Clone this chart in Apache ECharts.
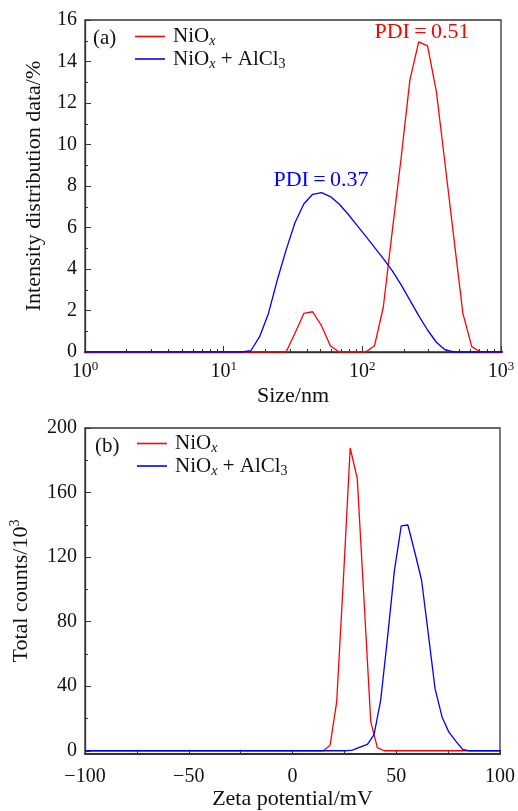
<!DOCTYPE html>
<html>
<head>
<meta charset="utf-8">
<script src="https://cdn.jsdelivr.net/npm/echarts@6/dist/echarts.min.js"></script>
<style>html,body{margin:0;padding:0;background:#fff}#c{width:518px;height:811px}</style>
</head>
<body>
<div id="c"></div>
<script>
// ---- Panel (a): DLS intensity distribution ----
const sizeNm = [0.9649, 1.117, 1.294, 1.499, 1.736, 2.010, 2.328, 2.696, 3.122, 3.615, 4.187, 4.849, 5.615, 6.503, 7.531, 8.721, 10.10, 11.70, 13.54, 15.69, 18.17, 21.04, 24.36, 28.21, 32.67, 37.84, 43.82, 50.75, 58.77, 68.06, 78.82, 91.28, 105.7, 122.4, 141.8, 164.2, 190.1, 220.2, 255.0, 295.3, 342.0, 396.1, 458.7, 531.2, 615.1, 712.4, 825.0, 955.4, 1106];
const intensityNiOx = [0, 0, 0, 0, 0, 0, 0, 0, 0, 0, 0, 0, 0, 0, 0, 0, 0, 0, 0, 0, 0, 0, 0, 0, 0.9, 1.86, 1.94, 1.27, 0.3, 0, 0, 0, 0, 0.3, 2.18, 5.8, 9.3, 13.1, 14.95, 14.75, 12.55, 9.0, 5.4, 1.86, 0.26, 0, 0, 0, 0];
const intensityNiOxAlCl3 = [0, 0, 0, 0, 0, 0, 0, 0, 0, 0, 0, 0, 0, 0, 0, 0, 0, 0, 0, 0.06, 0.74, 1.86, 3.47, 4.92, 6.23, 7.13, 7.6, 7.68, 7.49, 7.13, 6.65, 6.11, 5.58, 5.04, 4.5, 3.92, 3.25, 2.5, 1.75, 1.06, 0.47, 0.1, 0, 0, 0, 0, 0, 0, 0];
const sizeTickMajor = [1, 10, 100, 1000];
const sizeTickMinor = [2, 3, 4, 5, 6, 7, 8, 9, 20, 30, 40, 50, 60, 70, 80, 90, 200, 300, 400, 500, 600, 700, 800, 900];

// ---- Panel (b): zeta potential distribution ----
const zetaNiOx = [-100, 14.9, 18.1, 21.3, 24.6, 27.8, 31.2, 34.4, 37.7, 40.9, 44.2, 100];
const countsNiOx = [0, 0, 3.5, 30.3, 108, 187.6, 168.8, 95, 18.1, 1.9, 0, 0];
const zetaNiOxAlCl3 = [-100, 25.6, 28.9, 32.5, 36.1, 39.3, 42.5, 45.7, 49.1, 52.4, 55.6, 59.0, 62.2, 65.4, 68.7, 72.1, 75.3, 78.7, 82.0, 85.3, 100];
const countsNiOxAlCl3 = [0, 0, 0.4, 2.3, 4.0, 10.0, 31.4, 68.9, 111.5, 139.3, 139.9, 122.7, 105.8, 72.9, 38.5, 20.8, 11.7, 6.0, 0.9, 0, 0];
const countTickMajor = [0, 40, 80, 120, 160, 200];
const countTickMinor = [20, 60, 100, 140, 180];

const seriesNames = ['NiOx', 'NiOx+AlCl3'];
const pdiLabels = ['PDI\u2009=\u20090.51', 'PDI\u2009=\u20090.37'];

const F = 'Liberation Serif';
const TXT = '#111';
const AX = '#333';
const RED = '#ff0000';
const BLUE = '#0000ff';

const pairs = (xs, ys) => xs.map((x, i) => [x, ys[i]]);

const richBase = {
  b: { fontFamily: F, fontSize: 20, lineHeight: 24, verticalAlign: 'middle', color: TXT },
  s: { fontFamily: F, fontSize: 13, lineHeight: 13, verticalAlign: 'top', color: TXT }
};
const legendRich = {
  p: { fontFamily: F, fontSize: 21, lineHeight: 24, verticalAlign: 'middle', color: TXT, padding: [0, 0, 0, 3] },
  n: { fontFamily: F, fontSize: 21, lineHeight: 24, verticalAlign: 'middle', color: TXT },
  i: { fontFamily: F, fontSize: 14, fontStyle: 'italic', lineHeight: 14, verticalAlign: 'bottom', color: TXT },
  d: { fontFamily: F, fontSize: 14, lineHeight: 14, verticalAlign: 'bottom', color: TXT }
};
const legendFmt = n => n === 'NiOx' ? '{p|NiO}{i|x}' : '{p|NiO}{i|x}{n|\u2005+\u2005AlCl}{d|3}';

const chart = echarts.init(document.getElementById('c'), null, { renderer: 'canvas' });

const nameStyle = { fontFamily: F, fontSize: 22, color: TXT };

const option = {
  animation: false,
  backgroundColor: '#fff',
  grid: [
    { left: 85, top: 20, width: 416, height: 332, show: true, borderColor: AX, borderWidth: 1.3, backgroundColor: 'transparent' },
    { left: 85, top: 428, width: 416, height: 331, show: true, borderColor: AX, borderWidth: 1.3, backgroundColor: 'transparent' }
  ],
  xAxis: [
    { type: 'log', gridIndex: 0, min: 1, max: 1000, logBase: 10, position: 'bottom',
      name: 'Size/nm', nameLocation: 'middle', nameGap: 33, nameTextStyle: nameStyle,
      axisLine: { onZero: false, lineStyle: { color: AX, width: 1.3 } },
      axisTick: { inside: true, length: 6, lineStyle: { color: AX }, customValues: sizeTickMajor },
      axisLabel: { margin: 8, customValues: sizeTickMajor, formatter: v => '{b|10}{s|' + Math.round(Math.log10(v)) + '}', rich: richBase },
      splitLine: { show: false } },
    { type: 'log', gridIndex: 0, min: 1, max: 1000, logBase: 10, position: 'bottom',
      axisLine: { show: false, onZero: false },
      axisTick: { inside: true, length: 3, lineStyle: { color: AX }, customValues: sizeTickMinor },
      axisLabel: { show: false }, splitLine: { show: false } },
    { type: 'value', gridIndex: 1, min: -100, max: 100, interval: 50, position: 'bottom',
      name: 'Zeta potential/mV', nameLocation: 'middle', nameGap: 34, nameTextStyle: nameStyle,
      axisLine: { onZero: false, lineStyle: { color: AX, width: 1.8 } },
      axisTick: { inside: true, length: 4, lineStyle: { color: AX } },
      minorTick: { show: true, splitNumber: 2, length: 4, lineStyle: { color: AX } },
      axisLabel: { margin: 13, fontFamily: F, fontSize: 20, color: TXT, formatter: v => String(v).replace('-', '\u2212') },
      splitLine: { show: false } }
  ],
  yAxis: [
    { type: 'value', gridIndex: 0, min: 0, max: 16, interval: 2, position: 'left',
      name: 'Intensity distribution data/%', nameLocation: 'middle', nameGap: 40, nameRotate: 90, nameTextStyle: nameStyle,
      axisLine: { onZero: false, lineStyle: { color: AX, width: 1.3 } },
      axisTick: { inside: true, length: 6, lineStyle: { color: AX } },
      minorTick: { show: true, splitNumber: 2, length: 3, lineStyle: { color: AX } },
      axisLabel: { margin: 8, fontFamily: F, fontSize: 20, color: TXT },
      splitLine: { show: false } },
    { type: 'value', gridIndex: 1, min: -2, max: 200, position: 'left',
      name: '{n|Total counts/10}{s|3}', nameLocation: 'middle', nameGap: 51, nameRotate: 90,
      nameTextStyle: { rich: { n: { fontFamily: F, fontSize: 22, lineHeight: 26, verticalAlign: 'middle', color: TXT }, s: { fontFamily: F, fontSize: 14, lineHeight: 14, verticalAlign: 'top', color: TXT } } },
      axisLine: { onZero: false, lineStyle: { color: AX, width: 1.3 } },
      axisTick: { inside: true, length: 6, lineStyle: { color: AX }, customValues: countTickMajor },
      axisLabel: { margin: 8, fontFamily: F, fontSize: 20, color: TXT, customValues: countTickMajor },
      splitLine: { show: false } },
    { type: 'value', gridIndex: 1, min: -2, max: 200, position: 'left',
      axisLine: { show: false, onZero: false },
      axisTick: { inside: true, length: 3, lineStyle: { color: AX }, customValues: countTickMinor },
      axisLabel: { show: false }, splitLine: { show: false } }
  ],
  legend: [
    { orient: 'vertical', left: 135, top: 26, itemWidth: 30, itemHeight: 1.6, itemGap: 0, padding: 0, icon: 'rect',
      data: seriesNames, formatter: legendFmt, textStyle: { rich: legendRich }, selectedMode: false },
    { orient: 'vertical', left: 137, top: 433, itemWidth: 30, itemHeight: 1.6, itemGap: 0, padding: 0, icon: 'rect',
      data: seriesNames, formatter: legendFmt, textStyle: { rich: legendRich }, selectedMode: false }
  ],
  graphic: [
    { type: 'text', x: 93, y: 38, style: { text: '(a)', font: '21px "Liberation Serif"', fill: TXT, verticalAlign: 'middle', textVerticalAlign: 'middle' } },
    { type: 'text', x: 95, y: 446, style: { text: '(b)', font: '21px "Liberation Serif"', fill: TXT, verticalAlign: 'middle', textVerticalAlign: 'middle' } },
    { type: 'text', x: 422, y: 32, style: { text: pdiLabels[0], font: '22px "Liberation Serif"', fill: RED, align: 'center', verticalAlign: 'middle', textAlign: 'center', textVerticalAlign: 'middle' } },
    { type: 'text', x: 321, y: 180, style: { text: pdiLabels[1], font: '22px "Liberation Serif"', fill: BLUE, align: 'center', verticalAlign: 'middle', textAlign: 'center', textVerticalAlign: 'middle' } }
  ],
  series: [
    { name: seriesNames[0], type: 'line', xAxisIndex: 0, yAxisIndex: 0, data: pairs(sizeNm, intensityNiOx),
      symbol: 'none', clip: true, lineStyle: { color: RED, width: 1.3 }, itemStyle: { color: RED } },
    { name: seriesNames[1], type: 'line', xAxisIndex: 0, yAxisIndex: 0, data: pairs(sizeNm, intensityNiOxAlCl3),
      symbol: 'none', clip: true, lineStyle: { color: BLUE, width: 1.3 }, itemStyle: { color: BLUE } },
    { name: seriesNames[0], type: 'line', xAxisIndex: 2, yAxisIndex: 1, data: pairs(zetaNiOx, countsNiOx),
      symbol: 'none', clip: true, lineStyle: { color: RED, width: 1.3 }, itemStyle: { color: RED } },
    { name: seriesNames[1], type: 'line', xAxisIndex: 2, yAxisIndex: 1, data: pairs(zetaNiOxAlCl3, countsNiOxAlCl3),
      symbol: 'none', clip: true, lineStyle: { color: BLUE, width: 1.3 }, itemStyle: { color: BLUE } }
  ]
};
chart.setOption(option);
</script>
</body>
</html>
